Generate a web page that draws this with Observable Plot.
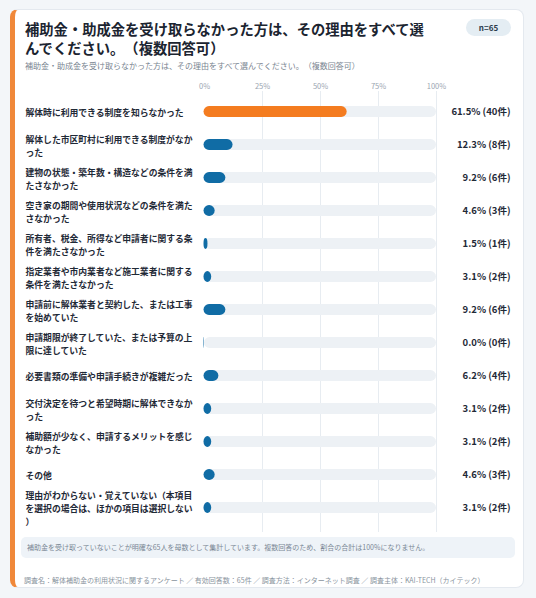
<!DOCTYPE html>
<html><head><meta charset="utf-8">
<script src="https://cdn.jsdelivr.net/npm/d3@7"></script>
<script src="https://cdn.jsdelivr.net/npm/@observablehq/plot@0.6"></script>
<style>
html,body{margin:0;padding:0;}
body{width:536px;height:598px;background:#f3f6f9;position:relative;overflow:hidden;font-family:"Noto Sans CJK JP","Noto Sans",sans-serif;text-spacing-trim:space-all;}
.card{position:absolute;left:10px;top:9px;width:514px;height:579px;box-sizing:border-box;background:#fff;border:1px solid #e4e9ef;border-left:5px solid #f0883a;border-radius:8px;}
.title{position:absolute;left:25px;top:20px;width:408px;font-size:14.3px;line-height:18.5px;font-weight:700;color:#1b2430;}
.badge{position:absolute;left:466px;top:19px;width:45px;height:17px;border-radius:9px;background:#e4edf3;color:#2b3a4a;font-size:8px;font-weight:700;line-height:17px;text-align:center;}
.sub{position:absolute;left:25px;top:60.5px;font-size:8px;line-height:10px;color:#7a8591;white-space:nowrap;}
#chart{position:absolute;left:10px;top:75px;}
.note{position:absolute;left:21px;top:537px;width:494px;height:21px;border-radius:5px;background:#eef3f8;color:#7a8795;font-size:7px;line-height:21px;padding-left:6px;box-sizing:border-box;white-space:nowrap;}
.foot{position:absolute;left:24px;top:575px;font-size:7px;line-height:10px;color:#8a949e;white-space:nowrap;}
</style></head>
<body>
<div class="card"></div>
<div class="title">補助金・助成金を受け取らなかった方は、その理由をすべて選んでください。（複数回答可）</div>
<div class="badge">n=65</div>
<div class="sub">補助金・助成金を受け取らなかった方は、その理由をすべて選んでください。（複数回答可）</div>
<div id="chart"></div>
<div class="note">補助金を受け取っていないことが明確な65人を母数として集計しています。複数回答のため、割合の合計は100%になりません。</div>
<div class="foot">調査名：解体補助金の利用状況に関するアンケート ／ 有効回答数：65件 ／ 調査方法：インターネット調査 ／ 調査主体：KAI-TECH（カイテック）</div>
<script>
const categories = [
  "解体時に利用できる制度を知らなかった",
  "解体した市区町村に利用できる制度がなかった",
  "建物の状態・築年数・構造などの条件を満たさなかった",
  "空き家の期間や使用状況などの条件を満たさなかった",
  "所有者、税金、所得など申請者に関する条件を満たさなかった",
  "指定業者や市内業者など施工業者に関する条件を満たさなかった",
  "申請前に解体業者と契約した、または工事を始めていた",
  "申請期限が終了していた、または予算の上限に達していた",
  "必要書類の準備や申請手続きが複雑だった",
  "交付決定を待つと希望時期に解体できなかった",
  "補助額が少なく、申請するメリットを感じなかった",
  "その他",
  "理由がわからない・覚えていない（本項目を選択の場合は、ほかの項目は選択しない）"
];
const percents = [61.5, 12.3, 9.2, 4.6, 1.5, 3.1, 9.2, 0.0, 6.2, 3.1, 3.1, 4.6, 3.1];
const counts = [40, 8, 6, 3, 1, 2, 6, 0, 4, 2, 2, 3, 2];
const tickValues = [0, 25, 50, 75, 100];

const ORANGE = "#f47c20", BLUE = "#106ca5", TRACK = "#edf1f5";
function wrap(s, n) {
  const ch = Array.from(s), out = [];
  for (let i = 0; i < ch.length; i += n) out.push(ch.slice(i, i + n).join(""));
  return out.join("\n");
}
const rows = categories.map((c, i) => ({
  cat: c, pct: percents[i], n: counts[i], lines: wrap(c, 19), top: i === 0
}));
const inset = 11.1;
const chart = Plot.plot({
  width: 514, height: 457,
  marginLeft: 194, marginRight: 88, marginTop: 16, marginBottom: 0,
  style: {fontFamily: "'Noto Sans CJK JP','Noto Sans',sans-serif", background: "transparent"},
  x: {domain: [0, 100]},
  y: {type: "band", domain: categories, range: [18.9, 450.6], padding: 0, axis: null},
  marks: [
    Plot.gridX(tickValues.slice(1), {stroke: "#e7ecf1", strokeOpacity: 1, strokeWidth: 1}),
    Plot.axisX(tickValues, {anchor: "top", tickSize: 0, tickPadding: 3, tickFormat: d => d + "%", fontSize: 7.5, fill: "#9aa5b1", label: null}),
    Plot.barX(rows, {y: "cat", x1: 0, x2: 100, fill: TRACK, rx: 5.5, insetTop: inset, insetBottom: inset}),
    Plot.barX(rows, {y: "cat", x1: 0, x2: "pct", fill: d => d.top ? ORANGE : BLUE, rx: 5.5, insetTop: inset, insetBottom: inset, insetLeft: -0.5}),
    Plot.text(rows, {y: "cat", text: "lines", frameAnchor: "left", dx: -179, textAnchor: "start", lineAnchor: "middle", lineHeight: 1.48, fontSize: 8.8, fontWeight: 600, fill: "#1f2a37"}),
    Plot.text(rows, {y: "cat", text: d => `${d.pct.toFixed(1)}% (${d.n}件)`, frameAnchor: "right", dx: 74, textAnchor: "end", fontSize: 9.5, fontWeight: 700, fill: "#1f2a37"})
  ]
});
document.getElementById("chart").appendChild(chart);
</script>
</body></html>
